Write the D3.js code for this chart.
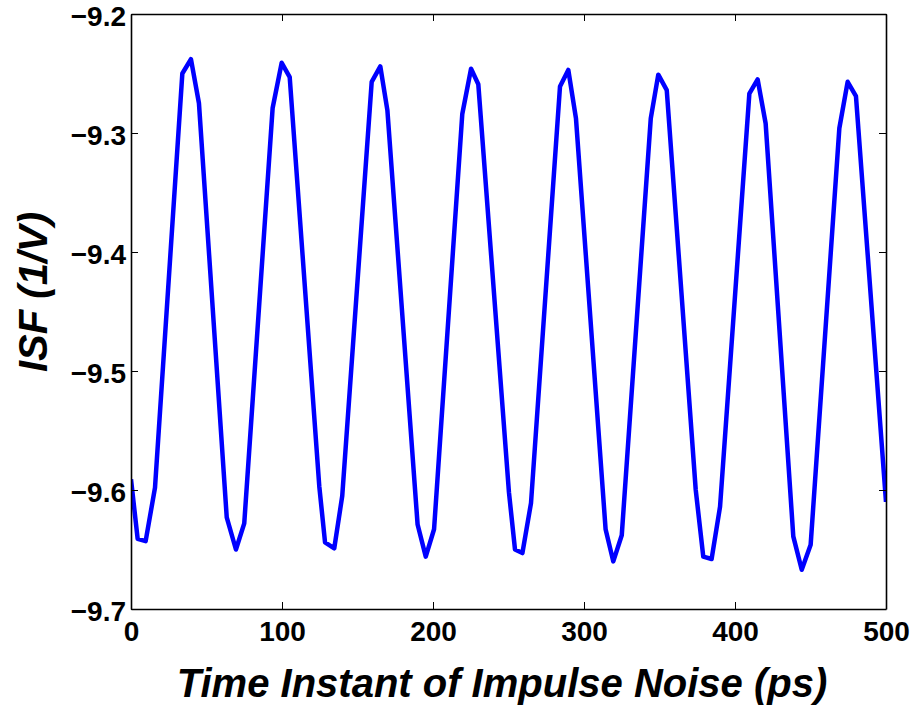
<!DOCTYPE html>
<html>
<head>
<meta charset="utf-8">
<script src="https://cdn.jsdelivr.net/npm/d3@7"></script>
<style>
  body { margin: 0; background: #fff; }
  svg text { font-family: "Liberation Sans", Arial, sans-serif; }
</style>
</head>
<body>
<div id="chart"></div>
<script>
// ISF vs impulse time, vertices
const timePs = [0, 4.4, 9.7, 15.9, 34.0, 39.7, 45.0, 63.4, 69.5, 75.0,
  93.8, 99.8, 105.1, 124.7, 128.5, 134.6, 139.9, 159.4, 165.1, 169.8,
  189.8, 195.2, 200.7, 219.4, 225.2, 230.0, 250.3, 254.3, 259.2, 264.9,
  284.1, 289.6, 294.7, 314.3, 319.4, 325.0, 344.2, 349.2, 354.8, 374.0,
  379.0, 384.5, 390.1, 409.5, 415.0, 420.3, 438.6, 444.2, 450.1, 469.1,
  474.6, 480.1, 500];
const isfValues = [-9.591, -9.641, -9.643, -9.598, -9.250, -9.238, -9.275, -9.623, -9.650, -9.628,
  -9.279, -9.241, -9.253, -9.597, -9.644, -9.649, -9.605, -9.257, -9.244, -9.281,
  -9.629, -9.656, -9.633, -9.284, -9.246, -9.259, -9.602, -9.650, -9.653, -9.611,
  -9.261, -9.247, -9.288, -9.633, -9.660, -9.638, -9.288, -9.251, -9.264, -9.600,
  -9.656, -9.658, -9.614, -9.267, -9.255, -9.292, -9.639, -9.667, -9.646, -9.296,
  -9.257, -9.269, -9.610];
const xTicks = [0, 100, 200, 300, 400, 500];
const yTicks = [-9.7, -9.6, -9.5, -9.4, -9.3, -9.2];

const width = 914, height = 711;
const margin = { top: 14, right: 28, bottom: 102, left: 131 };
const innerWidth = width - margin.left - margin.right;
const innerHeight = height - margin.top - margin.bottom;

const svg = d3.select('#chart')
  .append('svg')
  .attr('width', width)
  .attr('height', height);

const g = svg.append('g')
  .attr('transform', `translate(${margin.left},${margin.top})`);

const x = d3.scaleLinear().domain([0, 500]).range([0, innerWidth]);
const y = d3.scaleLinear().domain([-9.7, -9.2]).range([innerHeight, 0]);

// data line (clipped to the box like MATLAB)
svg.append('defs').append('clipPath').attr('id', 'plot-clip')
  .append('rect').attr('width', innerWidth).attr('height', innerHeight);

const data = timePs.map((t, i) => ({ t: t, v: isfValues[i] }));

g.append('path')
  .datum(data)
  .attr('clip-path', 'url(#plot-clip)')
  .attr('fill', 'none')
  .attr('stroke', '#0000ff')
  .attr('stroke-width', 4.5)
  .attr('stroke-linejoin', 'round')
  .attr('d', d3.line().x(d => x(d.t)).y(d => y(d.v)));

// axes, ticks pointing inward
const xAxis = g.append('g')
  .attr('transform', `translate(0,${innerHeight})`)
  .call(d3.axisBottom(x).tickValues(xTicks).tickSizeInner(-7).tickSizeOuter(0).tickPadding(12));

const yAxis = g.append('g')
  .call(d3.axisLeft(y).tickValues(yTicks).tickSizeInner(-7).tickSizeOuter(0).tickPadding(5)
    .tickFormat(d3.format('.1f')));

g.append('g')
  .call(d3.axisTop(x).tickValues(xTicks).tickSizeInner(-7).tickSizeOuter(0).tickFormat(''));

g.append('g')
  .attr('transform', `translate(${innerWidth},0)`)
  .call(d3.axisRight(y).tickValues(yTicks).tickSizeInner(-7).tickSizeOuter(0).tickFormat(''));

g.selectAll('.domain').attr('stroke', '#000').attr('stroke-width', 1.6);
g.selectAll('.tick line').attr('stroke', '#000').attr('stroke-width', 1);

xAxis.selectAll('text')
  .style('font-size', '28px')
  .style('font-weight', 'bold')
  .attr('fill', '#000');

yAxis.selectAll('text')
  .style('font-size', '28px')
  .style('font-weight', 'bold')
  .attr('fill', '#000')
  .attr('dy', '0.42em');

// axis labels
svg.append('text')
  .attr('x', 502)
  .attr('y', 697)
  .attr('text-anchor', 'middle')
  .style('font-size', '40px')
  .style('font-weight', 'bold')
  .style('font-style', 'italic')
  .text('Time Instant of Impulse Noise (ps)');

svg.append('text')
  .attr('transform', 'translate(47,292) rotate(-90)')
  .attr('text-anchor', 'middle')
  .style('font-size', '40px')
  .style('font-weight', 'bold')
  .style('font-style', 'italic')
  .text('ISF (1/V)');
</script>
</body>
</html>
